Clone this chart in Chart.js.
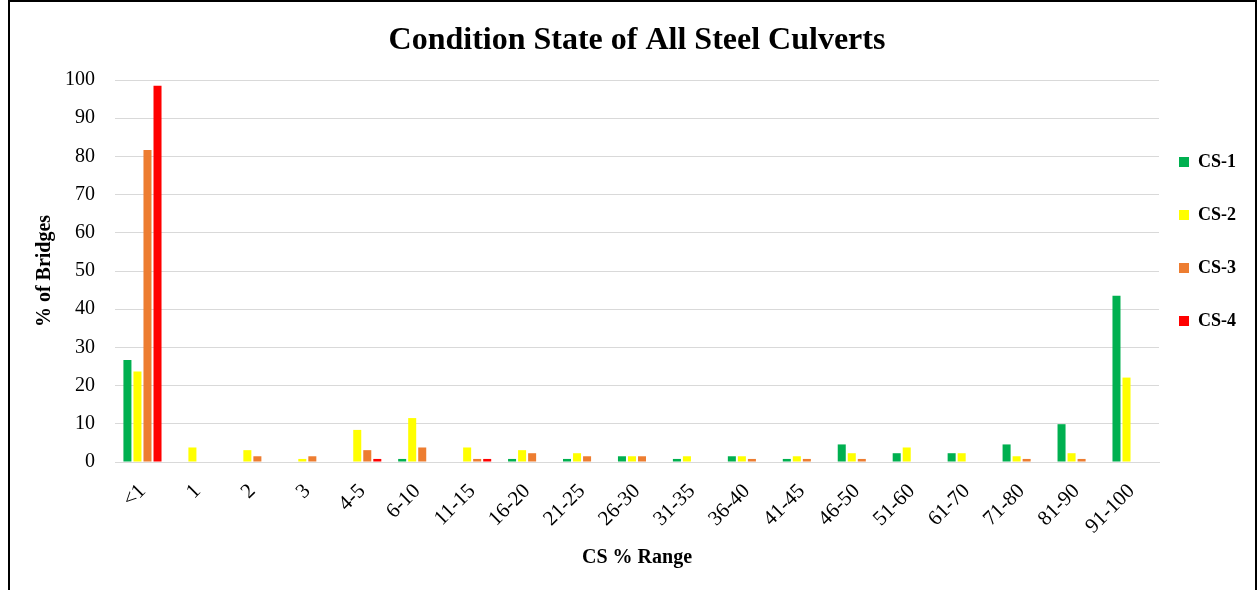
<!DOCTYPE html>
<html><head><meta charset="utf-8">
<script src="https://cdn.jsdelivr.net/npm/chart.js@4"></script>
<style>
html,body{margin:0;padding:0;background:#fff;}
#wrap{position:relative;width:1257px;height:590px;overflow:hidden;background:#fff;}
canvas{position:absolute;left:0;top:0;}
#frame{position:absolute;left:8px;top:0;width:1245px;height:600px;border:2px solid #000;pointer-events:none;}
</style></head>
<body><div id="wrap"><canvas id="c" width="1257" height="590"></canvas><div id="frame"></div></div>
<script>
const categories = ['<1','1','2','3','4-5','6-10','11-15','16-20','21-25','26-30','31-35','36-40','41-45','46-50','51-60','61-70','71-80','81-90','91-100'];
const cs1 = [26.7,0,0,0,0,0.8,0,0.8,0.8,1.5,0.8,1.5,0.8,4.6,2.3,2.3,4.6,9.9,43.5];
const cs2 = [23.7,3.8,3.1,0.8,8.4,11.5,3.8,3.1,2.3,1.5,1.5,1.5,1.5,2.3,3.8,2.3,1.5,2.3,22.1];
const cs3 = [81.7,0,1.5,1.5,3.1,3.8,0.8,2.3,1.5,1.5,0,0.8,0.8,0.8,0,0,0.8,0.8,0];
const cs4 = [98.5,0,0,0,0.8,0,0.8,0,0,0,0,0,0,0,0,0,0,0,0];
const seriesNames = ['CS-1','CS-2','CS-3','CS-4'];
const yMin = 0, yMax = 100, yStep = 10;

const seriesValues = [cs1, cs2, cs3, cs4];
const seriesColors = ['#00B050','#FFFF00','#ED7D31','#FF0000'];
const SERIF = "'Liberation Serif','Times New Roman',serif";

const legendPlace = {
  id: 'legendPlace',
  afterLayout(chart) {
    const lg = chart.legend;
    if (!lg) return;
    lg.left = 1144; lg.right = 1257; lg.width = lg.right - lg.left;
    lg.top = 118; lg.bottom = 470; lg.height = lg.bottom - lg.top;
  }
};

new Chart(document.getElementById('c'), {
  type: 'bar',
  data: {
    labels: categories,
    datasets: seriesValues.map((v, i) => ({
      label: seriesNames[i],
      data: v,
      backgroundColor: seriesColors[i],
      borderWidth: 0,
      categoryPercentage: 0.73,
      barPercentage: 0.8
    }))
  },
  options: {
    responsive: false,
    animation: false,
    devicePixelRatio: 1,
    layout: { padding: { left: 0, right: 0, top: 0, bottom: 0 } },
    plugins: {
      title: {
        display: true,
        text: 'Condition State of All Steel Culverts',
        fullSize: false,
        color: '#000',
        font: { family: SERIF, size: 32, weight: 'bold' },
        padding: { top: 22, bottom: 19.6 }
      },
      legend: {
        position: 'right',
        align: 'start',
        maxWidth: 98,
        labels: {
          boxWidth: 10,
          boxHeight: 10,
          padding: 35,
          color: '#000',
          font: { family: SERIF, size: 18, weight: 'bold' }
        }
      },
      tooltip: { enabled: false }
    },
    scales: {
      x: {
        grid: { display: false },
        border: { display: true, color: '#D9D9D9', width: 1 },
        ticks: {
          autoSkip: false,
          maxRotation: 45,
          minRotation: 45,
          padding: 9,
          color: '#000',
          font: { family: SERIF, size: 21 }
        },
        title: {
          display: true,
          text: 'CS % Range',
          color: '#000',
          font: { family: SERIF, size: 20, weight: 'bold' },
          padding: { top: 0, bottom: 20 }
        },
        afterFit(scale) { scale.height = 128; }
      },
      y: {
        min: yMin,
        max: yMax,
        ticks: {
          stepSize: yStep,
          padding: 20,
          color: '#000',
          font: { family: SERIF, size: 20 }
        },
        grid: { color: '#D9D9D9', lineWidth: 1, drawTicks: false },
        border: { display: false },
        title: {
          display: true,
          text: '% of Bridges',
          color: '#000',
          font: { family: SERIF, size: 20, weight: 'bold' },
          padding: { top: 33, bottom: 0 }
        },
        afterFit(scale) { scale.width = 115; }
      }
    }
  },
  plugins: [legendPlace]
});
</script>
</body></html>
